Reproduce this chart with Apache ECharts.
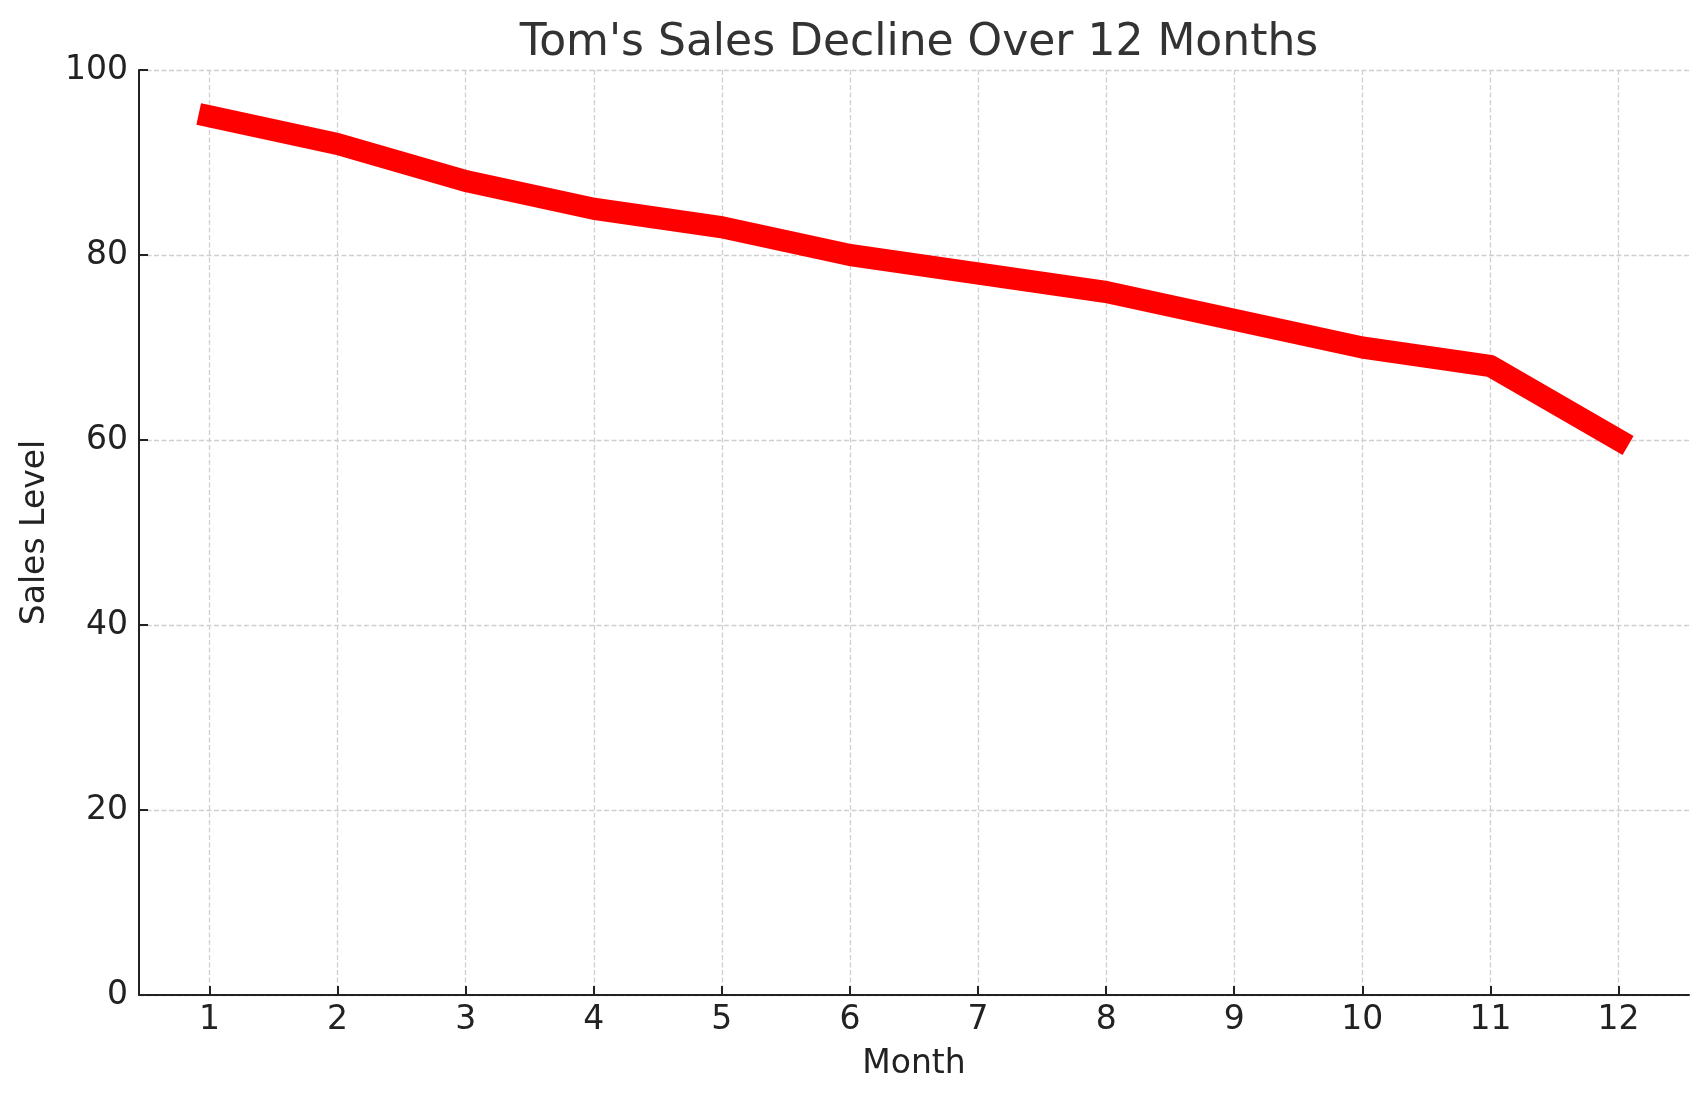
<!DOCTYPE html>
<html>
<head>
<meta charset="utf-8">
<script src="https://cdn.jsdelivr.net/npm/echarts@6/dist/echarts.min.js"></script>
<style>
html,body{margin:0;padding:0;background:#fff;}
#chart{width:1707px;height:1101px;}
</style>
</head>
<body>
<div id="chart"></div>
<script>
const months = [1, 2, 3, 4, 5, 6, 7, 8, 9, 10, 11, 12];
const sales = [95, 92, 88, 85, 83, 80, 78, 76, 73, 70, 68, 60];
const yTicks = [0, 20, 40, 60, 80, 100];

const FONT = '"DejaVu Sans", sans-serif';
const chart = echarts.init(document.getElementById('chart'));
const gridLine = { show: true, lineStyle: { color: '#cfcfcf', width: 1.3, type: [5, 2.5] } };

chart.setOption({
  animation: false,
  backgroundColor: '#ffffff',
  title: {
    text: "Tom's Sales Decline Over 12 Months",
    left: 914, textAlign: 'center', top: 17,
    textStyle: { fontFamily: FONT, fontSize: 44, fontWeight: 'normal', color: '#333333' }
  },
  grid: { left: 139, right: 18, top: 70, bottom: 106 },
  xAxis: {
    type: 'value', min: 0.45, max: 12.55,
    name: 'Month', nameLocation: 'middle', nameGap: 53,
    nameTextStyle: { fontFamily: FONT, fontSize: 33, color: '#222222' },
    axisLine: { show: true, onZero: false, lineStyle: { color: '#222222', width: 2 } },
    axisTick: { show: true, inside: true, length: 9, customValues: months, lineStyle: { color: '#222222', width: 2 } },
    axisLabel: { customValues: months, margin: 9, fontFamily: FONT, fontSize: 33, color: '#222222' },
    splitLine: gridLine
  },
  yAxis: {
    type: 'value', min: 0, max: 100, interval: 20,
    name: 'Sales Level', nameLocation: 'middle', nameGap: 87, nameRotate: 90,
    nameTextStyle: { fontFamily: FONT, fontSize: 33, color: '#222222' },
    axisLine: { show: true, lineStyle: { color: '#222222', width: 2 } },
    axisTick: { show: true, inside: true, length: 9, lineStyle: { color: '#222222', width: 2 } },
    axisLabel: { margin: 11, fontFamily: FONT, fontSize: 33, color: '#222222',
      formatter: v => yTicks.includes(v) ? String(v) : '' },
    splitLine: gridLine
  },
  series: [{
    type: 'line',
    data: months.map((m, i) => [m, sales[i]]),
    showSymbol: false,
    symbol: 'none',
    lineStyle: { color: '#ff0000', width: 22, cap: 'square', join: 'round' },
    z: 5
  }]
});
</script>
</body>
</html>
